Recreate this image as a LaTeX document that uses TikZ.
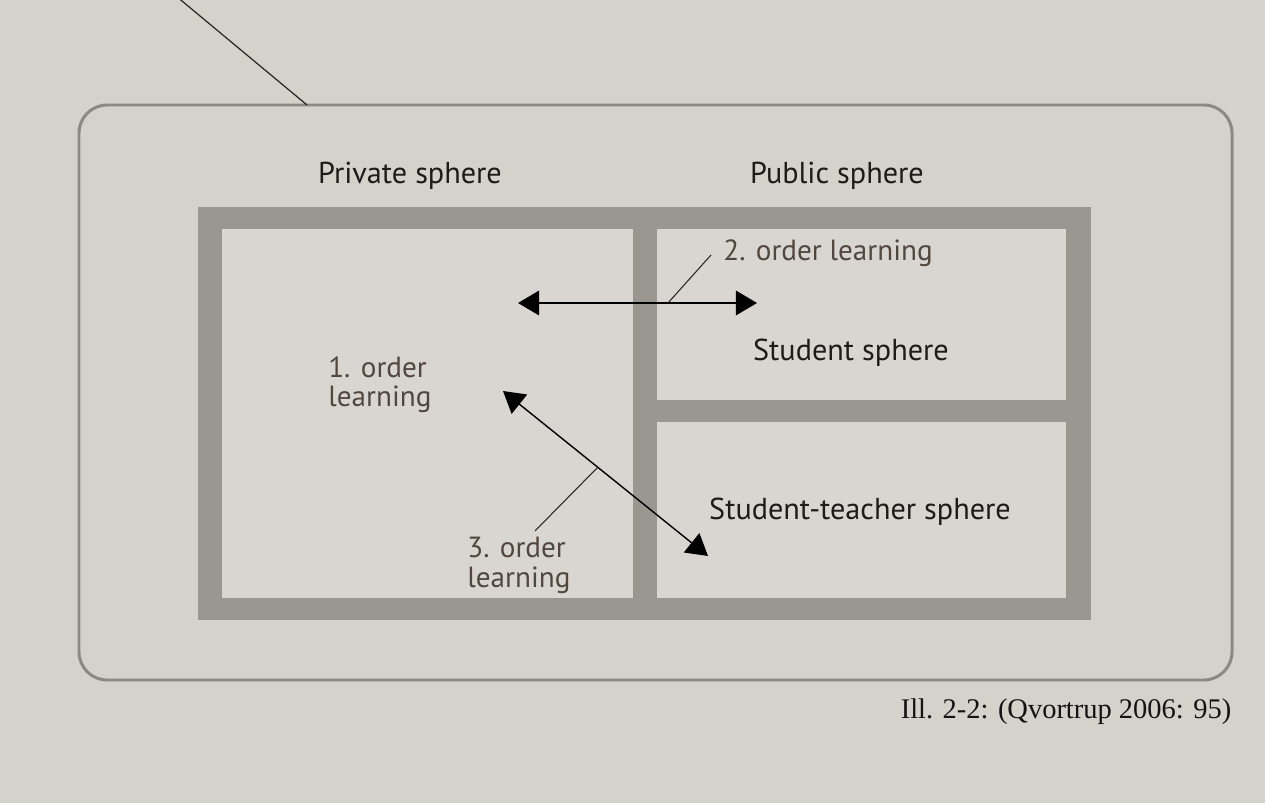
\documentclass[tikz,border=0pt]{standalone}
\usepackage{fontspec}
\setmainfont{Liberation Serif}
\newfontfamily\labelfont{PT Sans}
\usetikzlibrary{arrows.meta}
\definecolor{paper}{HTML}{D5D2CC}
\definecolor{cellpaper}{HTML}{D9D6D1}
\definecolor{framegrey}{HTML}{9A9690}
\definecolor{boxline}{HTML}{8C8984}
\definecolor{inkdark}{HTML}{1E1B18}
\definecolor{inkbrown}{HTML}{51473F}
\tikzset{
  lbl/.style={font=\labelfont\fontsize{17.2}{17.2}\selectfont, text=inkdark, inner sep=0pt},
  ordlbl/.style={font=\labelfont\fontsize{16.6}{17}\selectfont, text=inkbrown, inner sep=0pt, align=left},
  arr/.style={draw=black, line width=0.8pt, {Triangle[length=12pt,width=14pt]}-{Triangle[length=12pt,width=14pt]}},
  leader/.style={draw=black!85, line width=0.6pt},
  captext/.style={font=\fontsize{16.2}{16.2}\selectfont, text=black!92, inner sep=0pt}
}
\begin{document}
\begin{tikzpicture}[x=0.02cm,y=-0.02cm]
\useasboundingbox (0,0) rectangle (1265,803);
\fill[paper] (0,0) rectangle (1265,803);
% outer rounded box
\draw[boxline, line width=1.7pt, rounded corners=16pt] (79,105) rectangle (1232,680);
\coordinate (topend) at (176,-4);
\coordinate (boxtop) at (307,105);
\draw[black!85, line width=0.7pt] (topend) -- (boxtop);
% grey frame and cells
\fill[framegrey] (198,207) rectangle (1091,620);
\fill[cellpaper] (222,229) rectangle (633,598);
\fill[cellpaper] (657,229) rectangle (1066,400);
\fill[cellpaper] (657,422) rectangle (1066,598);
% labels
\node[lbl] (priv) at (410,176) {Private sphere};
\node[lbl] (pub) at (837,176) {Public sphere};
\node[lbl] (stud) at (851,353) {Student sphere};
\node[lbl] (studt) at (860,512) {Student-teacher sphere};
\node[ordlbl, anchor=north west] (o1) at (328,356) {1. order\\learning};
\node[ordlbl, anchor=west] (o2) at (723,253) {2. order learning};
\node[ordlbl, anchor=north west] (o3) at (467,537) {3. order\\learning};
% arrows
\coordinate (hL) at (518,303);
\coordinate (hR) at (757,303);
\draw[arr] (hL) -- (hR);
\coordinate (h2) at (668,303);
\coordinate (o2end) at (711,255);
\draw[leader] (h2) -- (o2end);
\coordinate (dA) at (503,391);
\coordinate (dB) at (708,556);
\draw[arr] (dA) -- (dB);
\coordinate (d2) at (598,467);
\coordinate (o3top) at (535,531);
\draw[leader] (d2) -- (o3top);
% caption
\node[captext] (caption) at (1066,712) {Ill. 2-2: (Qvortrup 2006: 95)};
\end{tikzpicture}
\end{document}
